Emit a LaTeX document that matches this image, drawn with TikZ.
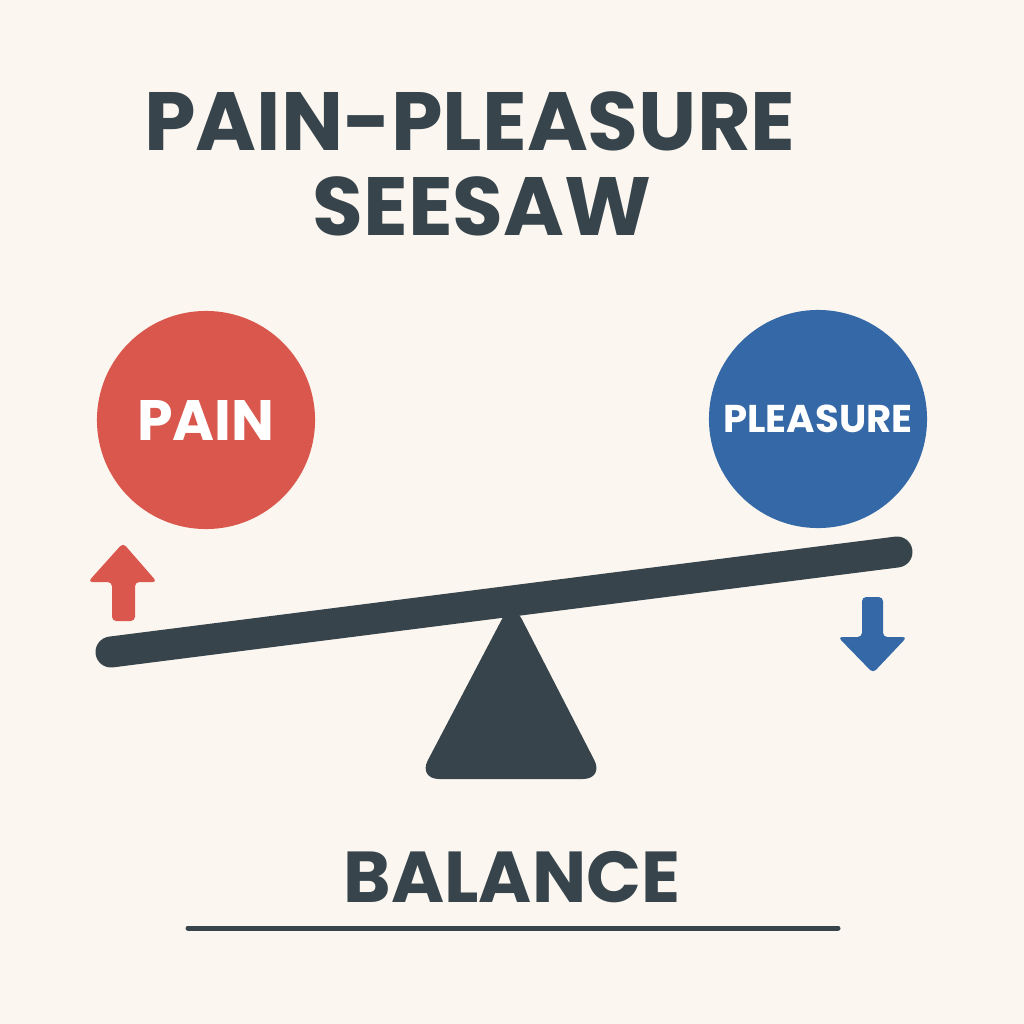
\documentclass[tikz,border=0pt]{standalone}
\usepackage{fontspec}
\setmainfont{Poppins}
\usepackage{tikz}
\usetikzlibrary{positioning}
\usetikzlibrary{calc}

\definecolor{paper}{HTML}{FBF7F0}
\definecolor{slate}{HTML}{37444C}
\definecolor{painred}{HTML}{D9574D}
\definecolor{pleasblue}{HTML}{3568A6}

\begin{document}
\begin{tikzpicture}[x=0.01cm, y=-0.01cm,
    weight/.style={circle, inner sep=0pt, minimum size=2.18cm, text=white, font=\bfseries},
    label text/.style={text=slate, font=\bfseries}]

        % Page
        \fill[paper] (0, 0) rectangle (1024, 1024);
        \useasboundingbox (0, 0) rectangle (1024, 1024);

        % Title
        \node[label text, font=\fontsize{23.5}{28}\selectfont\bfseries] (title1) at (470, 121) {PAIN-PLEASURE};
        \node[label text, font=\fontsize{23.5}{28}\selectfont\bfseries] (title2) at (482, 206) {SEESAW};

        % Fulcrum
        \fill[slate, rounded corners=6pt] (512, 600) -- (604, 779) -- (418, 779) -- cycle;

        % Beam
        \coordinate (lend) at (111, 652);
        \coordinate (rend) at (897, 552);
        \draw[slate, line width=0.31cm, line cap=round] (lend) -- (rend);

        % Weights
        \node[weight, fill=painred, font=\fontsize{16.2}{20}\selectfont\bfseries] (pain) at (206, 420) {PAIN};
        \node[weight, fill=pleasblue, font=\fontsize{11}{14}\selectfont\bfseries] (pleasure) at (818, 419) {PLEASURE};

        % Up arrow under pain
        \fill[painred, rounded corners=1.2pt] (123, 543) -- (157, 582) -- (135, 582) -- (135, 621)
            -- (112, 621) -- (112, 582) -- (88, 582) -- cycle;

        % Down arrow under pleasure
        \fill[pleasblue, rounded corners=1.2pt] (873, 673) -- (907, 637) -- (883, 637) -- (883, 597)
            -- (862, 597) -- (862, 637) -- (838, 637) -- cycle;

        % Balance caption
        \node[label text, font=\fontsize{20.5}{25}\selectfont\bfseries] (balance) at (512, 877) {BALANCE};
        \coordinate (rulel) at (188, 928);
        \coordinate (ruler) at (838, 928);
        \draw[slate, line width=0.05cm, line cap=round] (rulel) -- (ruler);

      \end{tikzpicture}
\end{document}
